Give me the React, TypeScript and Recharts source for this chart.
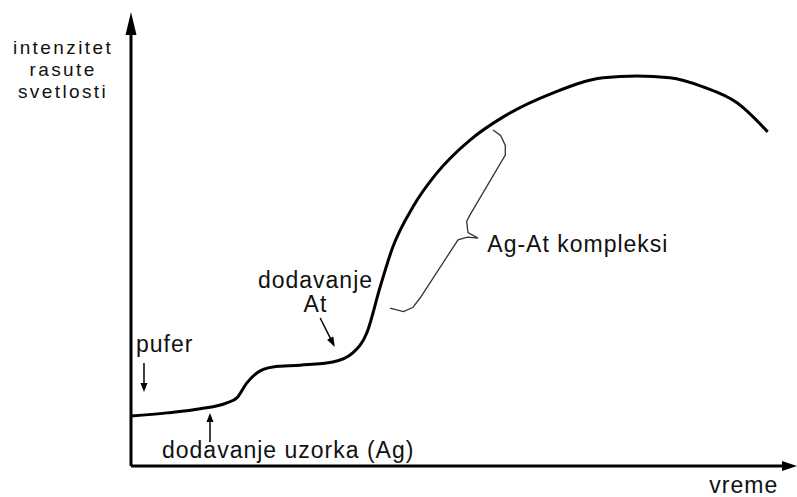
import { LineChart, Line, XAxis, YAxis, ReferenceLine, ReferenceDot } from "recharts";

// time (arbitrary units, 0-100) and scattered light intensity (0-100)
const time = [0, 5.4, 10.4, 14.4, 15.9, 17.4, 18.9, 21.3, 25.4, 30.3, 33.3, 35.4, 37.4, 39.3, 42.3, 45.9, 50.9, 55.9, 63.4, 70.9, 76.0, 80.9, 85.9, 91.0, 95.6];
const intensity = [11.0, 11.7, 12.6, 13.9, 15.0, 18.3, 20.5, 21.8, 22.2, 22.9, 24.9, 29.3, 39.4, 48.2, 57.0, 64.5, 71.8, 76.9, 82.2, 85.5, 85.9, 85.5, 83.5, 80.0, 73.6];

// curly brace marking the Ag-At complex region
const braceT = [54.35, 55.5, 56.2, 56.2, 50.9, 50.4, 50.6, 52.1, 50.5, 49.1, 43.4, 42.3, 40.9, 38.9];
const braceI = [74.0, 72.8, 70.6, 68.5, 55.3, 53.9, 51.4, 50.2, 50.4, 49.8, 37.0, 34.9, 34.0, 34.8];

const yLabelLines = ["intenzitet", "rasute", "svetlosti"];
const atLabelLines = ["dodavanje", "At"];

const curveData = time.map((t, i) => ({ t, I: intensity[i] }));
const braceData = braceT.map((t, i) => ({ t, I: braceI[i] }));

const FONT = '"Liberation Sans", Arial, sans-serif';
const INK = "#000";

function arrowHead(angle: number, len: number, half: number) {
  return (p: any) => {
    const { cx, cy } = p;
    if (cx == null || cy == null) return null;
    return (
      <polygon
        points={`0,0 ${-len},${-half} ${-len},${half}`}
        transform={`translate(${cx},${cy}) rotate(${angle})`}
        fill={INK}
      />
    );
  };
}

function textShape(lines: string[], anchor: "start" | "middle", lineGap: number, size = 23, spacing = 1) {
  return (p: any) => {
    const { cx, cy } = p;
    if (cx == null || cy == null) return null;
    return (
      <text x={cx} y={cy} textAnchor={anchor} fontFamily={FONT} fontSize={size} letterSpacing={spacing} fill="#111">
        {lines.map((l, i) => (
          <tspan key={l} x={cx} dy={i === 0 ? 0 : lineGap}>
            {l}
          </tspan>
        ))}
      </text>
    );
  };
}

export default function App() {
  return (
    <div style={{ position: "absolute", left: 0, top: 0, background: "#fff" }}>
      <LineChart width={797} height={497} margin={{ top: 12, right: 0, bottom: 31, left: 131 }}>
        <XAxis type="number" dataKey="t" domain={[0, 100]} hide allowDataOverflow />
        <YAxis type="number" domain={[0, 100]} hide allowDataOverflow />

        {/* axes */}
        <ReferenceLine segment={[{ x: 0, y: 0 }, { x: 0, y: 96 }]} stroke={INK} strokeWidth={3} ifOverflow="visible" />
        <ReferenceLine segment={[{ x: 0, y: 0 }, { x: 98, y: 0 }]} stroke={INK} strokeWidth={3} ifOverflow="visible" />
        <ReferenceDot x={0} y={100} shape={arrowHead(-90, 23, 5.5)} ifOverflow="visible" />
        <ReferenceDot x={100} y={0} shape={arrowHead(0, 15, 5)} ifOverflow="visible" />

        {/* annotation arrows */}
        <ReferenceLine segment={[{ x: 1.95, y: 22.7 }, { x: 1.95, y: 17 }]} stroke={INK} strokeWidth={1.5} ifOverflow="visible" />
        <ReferenceDot x={1.95} y={16.3} shape={arrowHead(90, 9, 3.5)} ifOverflow="visible" />
        <ReferenceLine segment={[{ x: 11.86, y: 5.3 }, { x: 11.86, y: 11 }]} stroke={INK} strokeWidth={1.5} ifOverflow="visible" />
        <ReferenceDot x={11.86} y={11.7} shape={arrowHead(-90, 9, 3.5)} ifOverflow="visible" />
        <ReferenceLine segment={[{ x: 28.4, y: 32.6 }, { x: 30.4, y: 26.8 }]} stroke={INK} strokeWidth={1.5} ifOverflow="visible" />
        <ReferenceDot x={30.6} y={26.2} shape={arrowHead(62.6, 10, 3.5)} ifOverflow="visible" />

        <Line data={braceData} dataKey="I" type="linear" stroke="#333" strokeWidth={1.3} dot={false} isAnimationActive={false} />
        <Line data={curveData} dataKey="I" type="monotone" stroke={INK} strokeWidth={3} dot={false} isAnimationActive={false} />

        {/* labels */}
        <ReferenceDot x={-10.2} y={90.7} shape={textShape(yLabelLines, "middle", 22, 19, 2.4)} ifOverflow="visible" />
        <ReferenceDot x={0.75} y={25.1} shape={textShape(["pufer"], "start", 0)} ifOverflow="visible" />
        <ReferenceDot x={4.65} y={1.76} shape={textShape(["dodavanje uzorka (Ag)"], "start", 0)} ifOverflow="visible" />
        <ReferenceDot x={27.7} y={39.2} shape={textShape(atLabelLines, "middle", 24)} ifOverflow="visible" />
        <ReferenceDot x={53.5} y={47.1} shape={textShape(["Ag-At kompleksi"], "start", 0)} ifOverflow="visible" />
        <ReferenceDot x={92.0} y={-5.9} shape={textShape(["vreme"], "middle", 0)} ifOverflow="visible" />
      </LineChart>
    </div>
  );
}
